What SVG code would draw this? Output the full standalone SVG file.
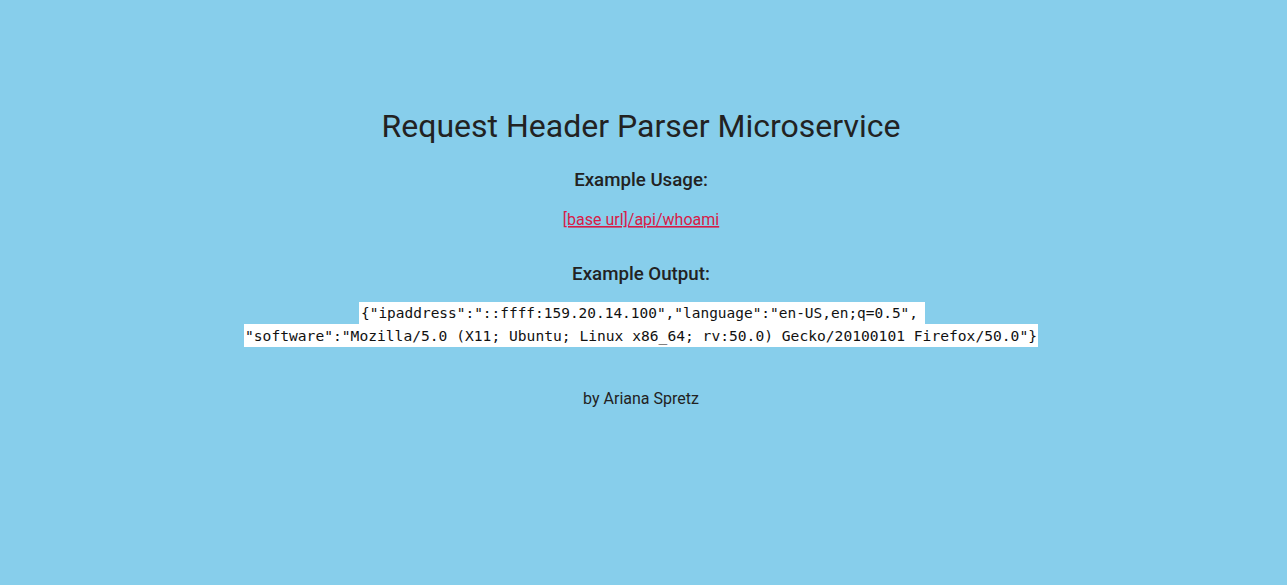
<svg xmlns="http://www.w3.org/2000/svg" width="1287" height="585" viewBox="0 0 1287 585">
<style>
.t{font-family:Roboto,"Liberation Sans",sans-serif;fill:#222;text-anchor:middle}
.h1{font-size:32px;font-weight:400}
.h3{font-size:18.7px;font-weight:500}
.p{font-size:16px}
.link{font-family:Roboto,"Liberation Sans",sans-serif;font-size:16px;fill:#d81b47;text-anchor:middle;text-decoration:underline}
.code{font-family:"DejaVu Sans Mono","Liberation Mono",monospace;font-size:14.5px;fill:#111}
</style>
<rect x="0" y="0" width="1287" height="585" fill="#87ceeb"/>
<g id="title"><text class="t h1" x="641" y="137">Request Header Parser Microservice</text></g>
<g id="usage-heading"><text class="t h3" x="641" y="186">Example Usage:</text></g>
<g id="usage-link"><text class="link" x="641" y="225">[base url]/api/whoami</text></g>
<g id="output-heading"><text class="t h3" x="641" y="280">Example Output:</text></g>
<g id="output-code">
<rect x="359" y="302" width="566" height="22" fill="#fff"/>
<rect x="244" y="324" width="794" height="23" fill="#fff"/>
<text class="code" x="361" y="318" textLength="557" lengthAdjust="spacingAndGlyphs">{"ipaddress":"::ffff:159.20.14.100","language":"en-US,en;q=0.5",</text>
<text class="code" x="245" y="341" textLength="792" lengthAdjust="spacingAndGlyphs">"software":"Mozilla/5.0 (X11; Ubuntu; Linux x86_64; rv:50.0) Gecko/20100101 Firefox/50.0"}</text>
</g>
<g id="author"><text class="t p" x="641" y="404">by Ariana Spretz</text></g>
</svg>
